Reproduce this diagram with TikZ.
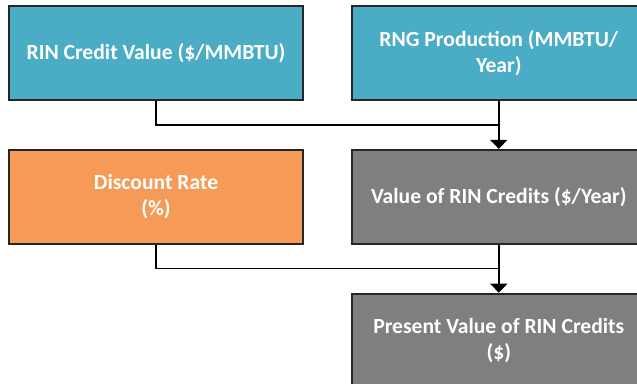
\documentclass[tikz,border=0pt]{standalone}
\usepackage{fontspec}
\setmainfont{Carlito}
\usepackage{xcolor}
\usetikzlibrary{positioning,arrows.meta}
\definecolor{inblue}{HTML}{4BACC6}
\definecolor{inorange}{HTML}{F59B57}
\definecolor{outgray}{HTML}{7F7F7F}

\begin{document}
\begin{tikzpicture}[x=1pt,y=1pt]
    \tikzstyle{box}=[draw=black!85,line width=1.8pt,minimum width=294pt,minimum height=94pt,
        text=white,align=center,font=\fontsize{21.6}{26}\selectfont\bfseries,inner sep=0pt]
    \tikzstyle{input}=[box,fill=inblue]
    \tikzstyle{rate}=[box,fill=inorange]
    \tikzstyle{result}=[box,fill=outgray]
    \tikzstyle{link}=[line width=1.4pt,draw=black]
    \tikzstyle{feed}=[link,-{Triangle[width=17pt,length=9pt]}]

    \useasboundingbox (0,0) rectangle (637,-383);

    \node[input] (rinvalue) at (156,-53) {RIN Credit Value (\$/MMBTU)};
    \node[input,right=47pt of rinvalue] (rngprod) {RNG Production (MMBTU/\\Year)};

    \node[rate,below=48pt of rinvalue] (discount) {Discount Rate\\(\%)};
    \node[result,below=48pt of rngprod] (rinyear) {Value of RIN Credits (\$/Year)};
    \node[result,below=48pt of rinyear] (presvalue) {Present Value of RIN Credits\\(\$)};

    % joins halfway between the rows
    \coordinate[below=24pt of rngprod] (join1);
    \coordinate[below=24pt of rinyear] (join2);

    \draw [link] (rinvalue) |- (join1);
    \draw [feed] (rngprod) -- (rinyear);

    \draw [link] (discount) |- (join2);
    \draw [feed] (rinyear) -- (presvalue);

\end{tikzpicture}
\end{document}
